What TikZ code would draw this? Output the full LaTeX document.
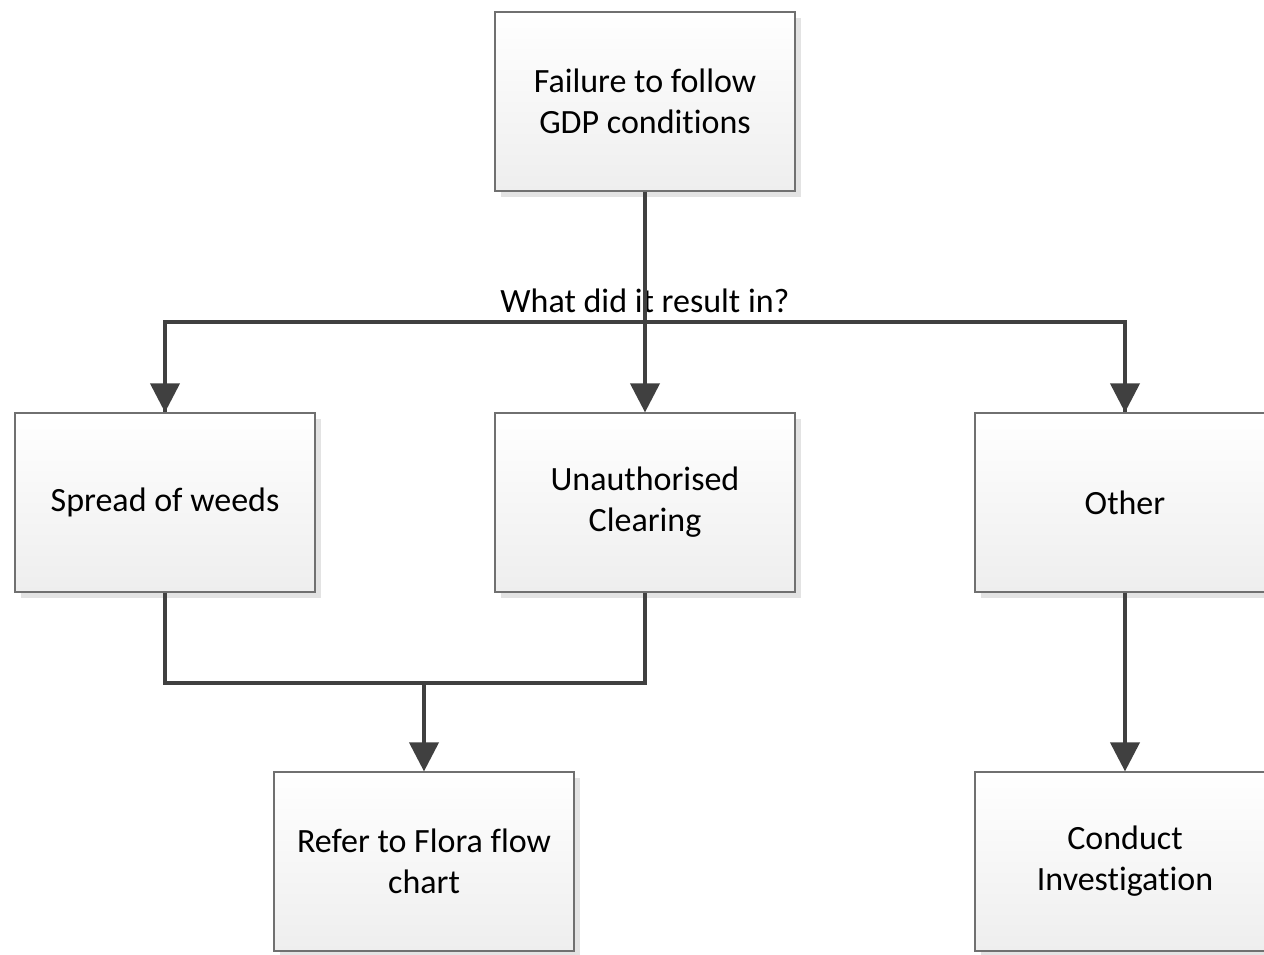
\documentclass[tikz,border=0pt]{standalone}
\usepackage{fontspec}
\setmainfont[Ligatures={NoCommon}]{Carlito}
\usetikzlibrary{arrows.meta,shadows}
\definecolor{linegray}{HTML}{404040}
\definecolor{edgegray}{HTML}{707070}
\definecolor{shadegray}{HTML}{EEEEEE}
\definecolor{shadowgray}{HTML}{E3E3E3}
\begin{document}
\begin{tikzpicture}[x=0.5pt,y=-0.5pt,
  procbox/.style={draw=edgegray, line width=0.6pt, top color=white, bottom color=shadegray,
    minimum width=150pt, minimum height=89.5pt, inner sep=0pt, align=center,
    font=\fontsize{17pt}{20.5pt}\selectfont,
    drop shadow={shadow xshift=3pt, shadow yshift=-3pt, fill=shadowgray, opacity=1}},
  conn/.style={draw=linegray, line width=2pt},
  arr/.style={conn, -{Triangle[width=14.5pt,length=14.5pt]}}]
\useasboundingbox (0,0) rectangle (1264,954);
\node[procbox] (fail)   at (645,101.5) {Failure to follow\\GDP conditions};
\node[procbox] (spread) at (165,502.5) {Spread of weeds};
\node[procbox] (unauth) at (645,502.5) {Unauthorised\\Clearing};
\node[procbox] (other)  at (1125,502.5) {Other};
\node[procbox] (refer)  at (424,861.5) {Refer to Flora flow\\chart};
\node[procbox] (conduct) at (1125,861.5) {Conduct\\Investigation};
\coordinate (split) at (645,322);
\coordinate (merge) at (424,683);
\draw[conn] (split) -| (spread.north);
\draw[conn] (split) -| (other.north);
\draw[arr] (split -| spread.north) -- (spread.north);
\draw[arr] (split -| other.north) -- (other.north);
\node[font=\fontsize{17pt}{20.5pt}\selectfont, anchor=base] (question) at (645,312) {What did it result in?};
\draw[arr] (fail.south) -- (unauth.north);
\draw[conn] (spread.south) |- (merge) -| (unauth.south);
\draw[arr] (merge) -- (refer.north);
\draw[arr] (other.south) -- (conduct.north);
\end{tikzpicture}
\end{document}
